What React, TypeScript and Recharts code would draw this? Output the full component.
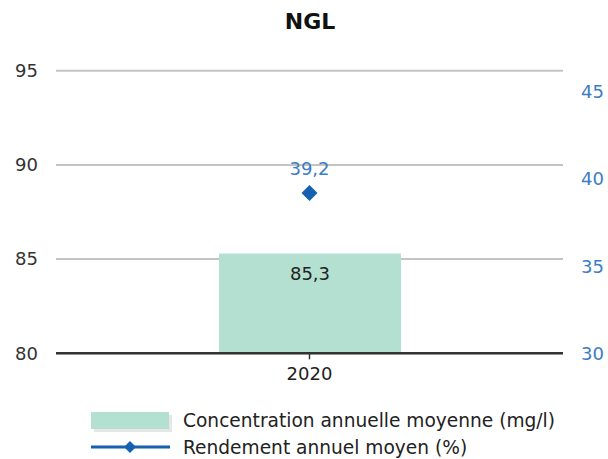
import React from 'react';
import { ComposedChart, Bar, Line, XAxis, YAxis, CartesianGrid, LabelList } from 'recharts';

const title = 'NGL';
const years = ['2020'];
const concentration = [85.3];
const rendement = [39.2];
const leftTicks = [80, 85, 90, 95];
const rightTicks = [30, 35, 40, 45];
const barName = 'Concentration annuelle moyenne (mg/l)';
const lineName = 'Rendement annuel moyen (%)';

const data = years.map((y, i) => ({ year: y, concentration: concentration[i], rendement: rendement[i] }));

const FONT = '"DejaVu Sans", Verdana, sans-serif';
const BLUE = '#3b7dc4';
const DARK_BLUE = '#1560b0';
const GREEN = '#b3e0d0';

const fmt = (v: number) => String(v).replace('.', ',');

const Diamond = (props: any) => {
  const { cx, cy } = props;
  if (cx == null || cy == null) return null;
  const r = 8;
  return <path d={`M${cx},${cy - r} L${cx + r},${cy} L${cx},${cy + r} L${cx - r},${cy} Z`} fill={DARK_BLUE} />;
};

const LineLabel = (props: any) => {
  const { x, y, value } = props;
  return (
    <text x={x} y={y - 25} textAnchor="middle" dominantBaseline="central" fill={BLUE} fontSize={18} fontFamily={FONT}>
      {fmt(value)}
    </text>
  );
};

const BarLabel = (props: any) => {
  const { x, y, width, value } = props;
  return (
    <text x={x + width / 2} y={y + 20} textAnchor="middle" dominantBaseline="central" fill="#222" fontSize={18} fontFamily={FONT}>
      {fmt(value)}
    </text>
  );
};

export default function App() {
  return (
    <div style={{ position: 'absolute', left: 0, top: 0, width: 608, height: 459, background: '#fff' }}>
      <div style={{ position: 'absolute', left: 0, top: 9, width: 620, textAlign: 'center', fontFamily: FONT, fontWeight: 'bold', fontSize: 22, color: '#111', lineHeight: '26px' }}>
        {title}
      </div>
      <ComposedChart width={608} height={459} data={data} margin={{ top: 70.7, right: 0, left: 0, bottom: 0 }}>
        <CartesianGrid yAxisId="left" horizontal vertical={false} stroke="#c4c4c4" strokeWidth={2} />
        <XAxis
          dataKey="year"
          height={105.7}
          axisLine={{ stroke: '#333', strokeWidth: 2.5 }}
          tickLine={{ stroke: '#333', strokeWidth: 1.5 }}
          tickSize={6}
          tickMargin={8}
          tick={{ fill: '#222', fontSize: 18, fontFamily: FONT }}
        />
        <YAxis
          yAxisId="left"
          orientation="left"
          width={56}
          domain={[80, 95]}
          ticks={leftTicks}
          allowDataOverflow
          axisLine={false}
          tickLine={false}
          tickMargin={12}
          tick={{ fill: '#333', fontSize: 18, fontFamily: FONT }}
        />
        <YAxis
          yAxisId="right"
          orientation="right"
          width={45}
          domain={[30, 46.22]}
          ticks={rightTicks}
          allowDataOverflow
          axisLine={false}
          tickLine={false}
          tickMargin={12}
          tick={{ fill: BLUE, fontSize: 18, fontFamily: FONT, textAnchor: 'start' }}
        />
        <Bar yAxisId="left" dataKey="concentration" name={barName} fill={GREEN} barSize={182} isAnimationActive={false}>
          <LabelList dataKey="concentration" content={BarLabel} />
        </Bar>
        <Line yAxisId="right" dataKey="rendement" name={lineName} stroke={DARK_BLUE} strokeWidth={3} dot={<Diamond />} activeDot={false} isAnimationActive={false}>
          <LabelList dataKey="rendement" content={LineLabel} />
        </Line>
      </ComposedChart>
      <svg width={608} height={60} style={{ position: 'absolute', left: 0, top: 400 }}>
        <rect x={94} y={15} width={78} height={17} fill="#e6e6e6" />
        <rect x={91} y={12} width={78} height={17} fill={GREEN} />
        <text x={183} y={20.5} dominantBaseline="central" fontSize={18.6} fontFamily={FONT} fill="#222">{barName}</text>
        <line x1={91} y1={47} x2={170} y2={47} stroke={DARK_BLUE} strokeWidth={3} />
        <path d="M130,41 L136,47 L130,53 L124,47 Z" fill={DARK_BLUE} />
        <text x={183} y={47} dominantBaseline="central" fontSize={18.6} fontFamily={FONT} fill="#222">{lineName}</text>
      </svg>
    </div>
  );
}
